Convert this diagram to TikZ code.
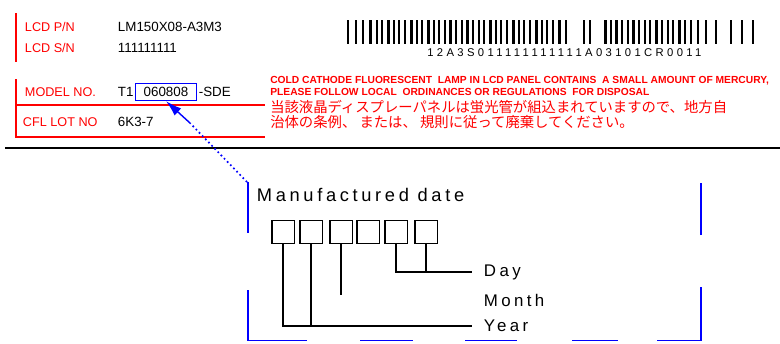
\documentclass[tikz,border=0pt]{standalone}
\usepackage{fontspec}
\setmainfont{Liberation Sans}
\newfontfamily\jpfont{Noto Sans CJK JP}
\newfontfamily\spacedfont[LetterSpace=20]{Liberation Sans}
\newfontfamily\bcfont[LetterSpace=30]{Liberation Sans}
\usetikzlibrary{arrows.meta, positioning, calc}

\begin{document}
\begin{tikzpicture}[x=0.025cm, y=-0.025cm, >=Latex,
  redrule/.style={red, line width=1.3pt},
  fieldname/.style={anchor=west, red, font=\fontsize{9}{10}\selectfont},
  fieldval/.style={anchor=west, font=\fontsize{9.5}{11}\selectfont},
  warntext/.style={anchor=west, red, inner sep=0pt, font=\fontsize{7.3}{8}\selectfont\bfseries},
  warnjp/.style={anchor=west, red, inner sep=0pt, font=\fontsize{10.2}{11}\selectfont\jpfont},
  digitbox/.style={draw, line width=1pt, minimum width=0.56cm, minimum height=0.57cm, inner sep=0pt},
  datelabel/.style={anchor=west, font=\fontsize{12}{14}\selectfont\spacedfont},
  framerule/.style={blue, line width=1.4pt}]
  \useasboundingbox (0,0) rectangle (780,343);

  % label fields on the left
  \draw[redrule] (16,13) -- (16,62);
  \draw[redrule] (16,79) |- (265,137);
  \draw[redrule] (16,105) -- (265,105);
  \node[fieldname] (pnlabel) at (20,27) {LCD P/N};
  \node[fieldname] (snlabel) at (20,48) {LCD S/N};
  \node[fieldname] (modellabel) at (20,92) {MODEL NO.};
  \node[fieldname] (lotlabel) at (18,122) {CFL LOT NO};
  \node[fieldval] (pnval) at (113,27) {LM150X08-A3M3};
  \node[fieldval] (snval) at (113,48) {111111111};
  \node[fieldval] (modelpre) at (113,92) {T1};
  \node[draw=blue, line width=1pt, minimum width=1.52cm, minimum height=0.42cm, inner sep=1pt,
        font=\fontsize{9.5}{11}\selectfont] (mfgbox) at (166,92) {060808};
  \node[fieldval, right=0pt of mfgbox, inner sep=1pt] (modelsuf) {-SDE};
  \node[fieldval] (lotval) at (113,122) {6K3-7};

  % barcode
  \foreach \x/\w in {347/1.5, 355/1.5, 362/1.5, 369/2.5, 376/1.5, 381/1.5, 387/2.5, 393/1.5,
      398/1.5, 404/1.5, 410/2.5, 416/1.5, 421/1.5, 427/2.5, 433/1.5, 438/1.5, 444/1.5, 449/2.5,
      455/1.5, 461/1.5, 466/2.5, 472/1.5, 478/1.5, 483/1.5, 489/2.5, 495/1.5, 500/1.5, 506/1.5,
      512/2.5, 518/1.5, 523/1.5, 529/1.5, 535/2.5, 541/1.5, 546/1.5, 552/1.5, 558/2.5, 565/1.5,
      583/1.5, 589/1.5, 604/2.5, 610/1.5, 615/2.5, 621/1.5, 627/1.5, 632/2.5, 638/1.5, 644/1.5,
      649/1.5, 655/2.5, 661/1.5, 667/1.5, 672/1.5, 678/2.5, 684/1.5, 690/1.5, 697/1.5, 705/1.5,
      715/1.5, 730/1.5, 741/1.5, 752/1.5}
    \fill (\x,20) rectangle ++(\w,24);
  \node[anchor=west, inner sep=0pt, font=\fontsize{8}{9}\selectfont\bcfont] (barcodetext) at (427,53)
    {12A3S011111111111A03101CR0011};

  % warning text
  \node[warntext] (warn1) at (270,81) {COLD CATHODE FLUORESCENT\ \ LAMP IN LCD PANEL CONTAINS\ \ A SMALL AMOUNT OF MERCURY,};
  \node[warntext] (warn2) at (270,92) {PLEASE FOLLOW LOCAL\ \ ORDINANCES OR REGULATIONS\ \ FOR DISPOSAL};
  \node[warnjp] (warnjp1) at (270,107) {当該液晶ディスプレーパネルは蛍光管が組込まれていますので、地方自};
  \node[warnjp] (warnjp2) at (270,122) {治体の条例、 または、 規則に従って廃棄してください。};

  \draw[line width=1.3pt] (5,148) -- (780,148);

  % pointer to the date field
  \coordinate (dotend) at (247,182);
  \coordinate (arrowtail) at (190,123);
  \draw[blue, dotted, line width=1.2pt] (dotend) -- (arrowtail);
  \draw[blue, line width=1pt, -{Latex[length=4mm, width=2.4mm]}] (arrowtail) -- (mfgbox.south);

  % dashed frame
  \draw[framerule] (248,182) -- (248,233);
  \draw[framerule] (248,290) -- (248,340.5) -- (307,340.5);
  \draw[framerule] (360,340.5) -- (413,340.5);
  \draw[framerule] (465,340.5) -- (517,340.5);
  \draw[framerule] (572,340.5) -- (618,340.5);
  \draw[framerule] (657,340.5) -- (701,340.5) -- (701,287);
  \draw[framerule] (701,235) -- (701,183);

  % manufactured date
  \node[datelabel, font=\fontsize{13}{15}\selectfont\spacedfont] (mdate) at (252,195) {Manufactured date};
  \node[digitbox] (d1) at (283,232) {};
  \node[digitbox] (d2) at (311,232) {};
  \node[digitbox] (d3) at (341,232) {};
  \node[digitbox] (d4) at (368,232) {};
  \node[digitbox] (d5) at (396,232) {};
  \node[digitbox] (d6) at (426,232) {};
  \node[datelabel] (day) at (479,272) {Day};
  \node[datelabel] (month) at (479,300) {Month};
  \node[datelabel] (year) at (479,326) {Year};

  \draw[line width=1pt, shorten >=5pt] (d1.south) |- (year.west);
  \draw[line width=1pt] (d2.south) -- (d2.south |- year.west);
  \draw[line width=1pt] (d3.south) -- ($(d3.south |- month.west)+(0,-5)$);
  \draw[line width=1pt, shorten >=5pt] (d5.south) |- (day.west);
  \draw[line width=1pt] (d6.south) -- (d6.south |- day.west);
\end{tikzpicture}
\end{document}
